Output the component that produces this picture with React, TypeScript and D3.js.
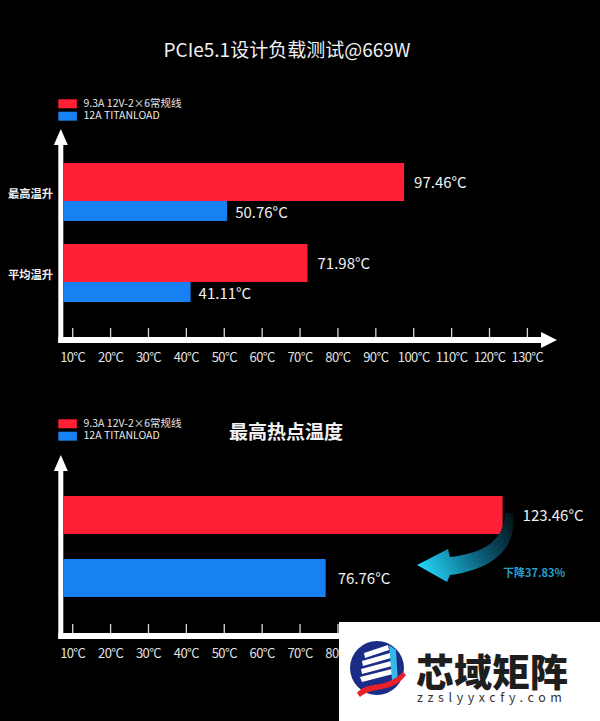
import React from "react";
import * as d3 from "d3";

// ---------- data ----------
const seriesNames = ["9.3A 12V-2×6常规线", "12A TITANLOAD"];
const seriesColors = ["#ff1f36", "#1780f2"];
const chartTitle = "PCIe5.1设计负载测试@669W";
const riseCategories = ["最高温升", "平均温升"];
const riseStandard = [97.46, 71.98];
const riseTitan = [50.76, 41.11];
const hotspotTitle = "最高热点温度";
const hotspotSeries = ["standard", "titan"];
const hotspotValues = [123.46, 76.76];
const dropLabel = "下降37.83%";
const tickValues = [10, 20, 30, 40, 50, 60, 70, 80, 90, 100, 110, 120, 130];
const tickLabels = tickValues.map((t) => `${t}°C`);
const watermarkName = "芯域矩阵";
const watermarkUrl = "zzslyyxcfy.com";

const W = 600;
const H = 721;
const FONT = "'Noto Sans CJK SC', 'Noto Sans', sans-serif";
const fmt = (v: number) => `${v.toFixed(2)}°C`;

const x = d3.scaleLinear().domain([10, 130]).range([72.7, 527.4]);
const AXIS_LEFT = 58.3;
const AXIS_W = 5;
const BAR_X0 = AXIS_LEFT + AXIS_W;
const WM_X = 339;
const WM_Y = 622;

function Legend({ y }: { y: number }) {
  return (
    <g>
      {seriesNames.map((n, i) => (
        <g key={n}>
          <rect x={58.3} y={y + i * 12.4} width={18.6} height={9} fill={seriesColors[i]} />
          <text x={83.5} y={y + 8 + i * 12} fill="#e6e6e6" fontSize={10.5} fontFamily={FONT}>
            {n}
          </text>
        </g>
      ))}
    </g>
  );
}

function Axes({ axisY, tipY, labelMaxX }: { axisY: number; tipY: number; labelMaxX?: number }) {
  const arrowW = 7;
  const headH = 16;
  const cx = AXIS_LEFT + AXIS_W / 2;
  const lineEnd = 543;
  const tip = 557;
  return (
    <g>
      <rect x={AXIS_LEFT} y={tipY + headH - 1} width={AXIS_W} height={axisY + 3 - (tipY + headH - 1)} fill="#fff" />
      <path d={`M${cx},${tipY} L${cx + arrowW},${tipY + headH} L${cx - arrowW},${tipY + headH} Z`} fill="#fff" />
      <rect x={AXIS_LEFT} y={axisY - 3} width={lineEnd - AXIS_LEFT} height={6} fill="#fff" />
      <path d={`M${tip},${axisY} L${lineEnd - 2},${axisY - 8} L${lineEnd - 2},${axisY + 8} Z`} fill="#fff" />
      {tickValues.map((t, i) => (
        <g key={t}>
          <line x1={x(t)} x2={x(t)} y1={axisY - 12} y2={axisY - 3} stroke="#d8d8d8" strokeWidth={1.3} />
          {labelMaxX !== undefined && x(t) - 16 > labelMaxX ? null : (
            <text
              x={x(t)}
              y={axisY + 22.3}
              textAnchor="middle"
              fill="#e2e2e2"
              fontSize={13}
              letterSpacing={-0.6}
              fontFamily={FONT}
            >
              {tickLabels[i]}
            </text>
          )}
        </g>
      ))}
    </g>
  );
}

export default function App() {
  const yTop = d3.scaleBand<string>().domain(riseCategories).range([163, 302]).paddingInner(23 / 81).paddingOuter(0);
  const redH = (yTop.bandwidth() * 38) / 58;
  const blueH = yTop.bandwidth() - redH;

  const yBot = d3.scaleBand<string>().domain(hotspotSeries).range([496, 597]).paddingInner(25 / 63).paddingOuter(0);

  const arrowPath =
    "M505,513 L513,513 C517,542 501,568 450,575 L447,582 L417,565 L448,549 L450,557 C485,553 504,540 505,513 Z";

  return (
    <svg
      width={W}
      height={H}
      viewBox={`0 0 ${W} ${H}`}
      style={{ position: "absolute", left: 0, top: 0, display: "block" }}
    >
      <defs>
        <linearGradient id="dropGrad" gradientUnits="userSpaceOnUse" x1={510} y1={514} x2={420} y2={566}>
          <stop offset="0" stopColor="#04141a" />
          <stop offset="0.45" stopColor="#0c5d78" />
          <stop offset="1" stopColor="#22d2f6" />
        </linearGradient>
      </defs>
      <rect width={W} height={H} fill="#000" />

      {/* ---------- top chart ---------- */}
      <text x={287} y={57.3} textAnchor="middle" fill="#f0f0f0" fontSize={19} fontFamily={FONT}>
        {chartTitle}
      </text>
      <Legend y={99.3} />
      <Axes axisY={340} tipY={129} />
      {riseCategories.map((c, i) => {
        const y0 = yTop(c)!;
        return (
          <g key={c}>
            <rect x={BAR_X0} y={y0} width={x(riseStandard[i]) - BAR_X0} height={redH} fill={seriesColors[0]} />
            <rect x={BAR_X0} y={y0 + redH} width={x(riseTitan[i]) - BAR_X0} height={blueH} fill={seriesColors[1]} />
            <text x={x(riseStandard[i]) + 10} y={y0 + redH / 2 + 6} fill="#f2f2f2" fontSize={15} fontFamily={FONT}>
              {fmt(riseStandard[i])}
            </text>
            <text x={x(riseTitan[i]) + 8} y={y0 + redH + blueH / 2 + 7} fill="#f2f2f2" fontSize={15} fontFamily={FONT}>
              {fmt(riseTitan[i])}
            </text>
            <text
              x={30.5}
              y={y0 + 34.5}
              textAnchor="middle"
              fill="#f2f2f2"
              fontSize={11.3}
              fontWeight={700}
              fontFamily={FONT}
            >
              {c}
            </text>
          </g>
        );
      })}

      {/* ---------- bottom chart ---------- */}
      <Legend y={419.3} />
      <text x={286} y={439} textAnchor="middle" fill="#f2f2f2" fontSize={19} fontWeight={700} fontFamily={FONT}>
        {hotspotTitle}
      </text>
      <Axes axisY={636} tipY={455} labelMaxX={WM_X} />
      {hotspotSeries.map((s, i) => {
        const y0 = yBot(s)!;
        const bh = yBot.bandwidth();
        return (
          <g key={s}>
            <rect x={BAR_X0} y={y0} width={x(hotspotValues[i]) - BAR_X0} height={bh} fill={seriesColors[i]} />
            <text
              x={x(hotspotValues[i]) + (i === 0 ? 20 : 12)}
              y={y0 + bh / 2 + 6}
              fill="#f2f2f2"
              fontSize={15}
              fontFamily={FONT}
            >
              {fmt(hotspotValues[i])}
            </text>
          </g>
        );
      })}
      <path d={arrowPath} fill="url(#dropGrad)" />
      <text x={503} y={577} fill="#2a9fca" fontSize={11} fontWeight={700} fontFamily={FONT}>
        {dropLabel}
      </text>

      {/* ---------- watermark overlay ---------- */}
      <g>
        <rect x={WM_X} y={WM_Y} width={W - WM_X} height={H - WM_Y} fill="#fff" />
        <circle cx={377} cy={668} r={27} fill="#1b2c86" />
        <g fill="#fff">
          <path d="M364,653 L388,645 L389,650 L365,658 Z" />
          <path d="M362,661 L390,653 L391,658 L363,666 Z" />
          <path d="M361,669 L391,661 L392,666 L362,674 Z" />
          <path d="M360,677 L392,669 L393,674 L362,682 Z" />
        </g>
        <path d="M389,645 L396,650 L398,683 L392,680 Z" fill="#35b8e8" />
        <path d="M357,693 C368,680 385,690 403,672 L406,675 C392,694 372,686 360,697 Z" fill="#e8202a" />
        <text x={416} y={686} fill="#1e1e1e" fontSize={38} fontWeight={900} fontFamily={FONT}>
          {watermarkName}
        </text>
        <text x={417} y={702} fill="#333" fontSize={12.5} letterSpacing={4.6} fontFamily={FONT}>
          {watermarkUrl}
        </text>
      </g>
    </svg>
  );
}
